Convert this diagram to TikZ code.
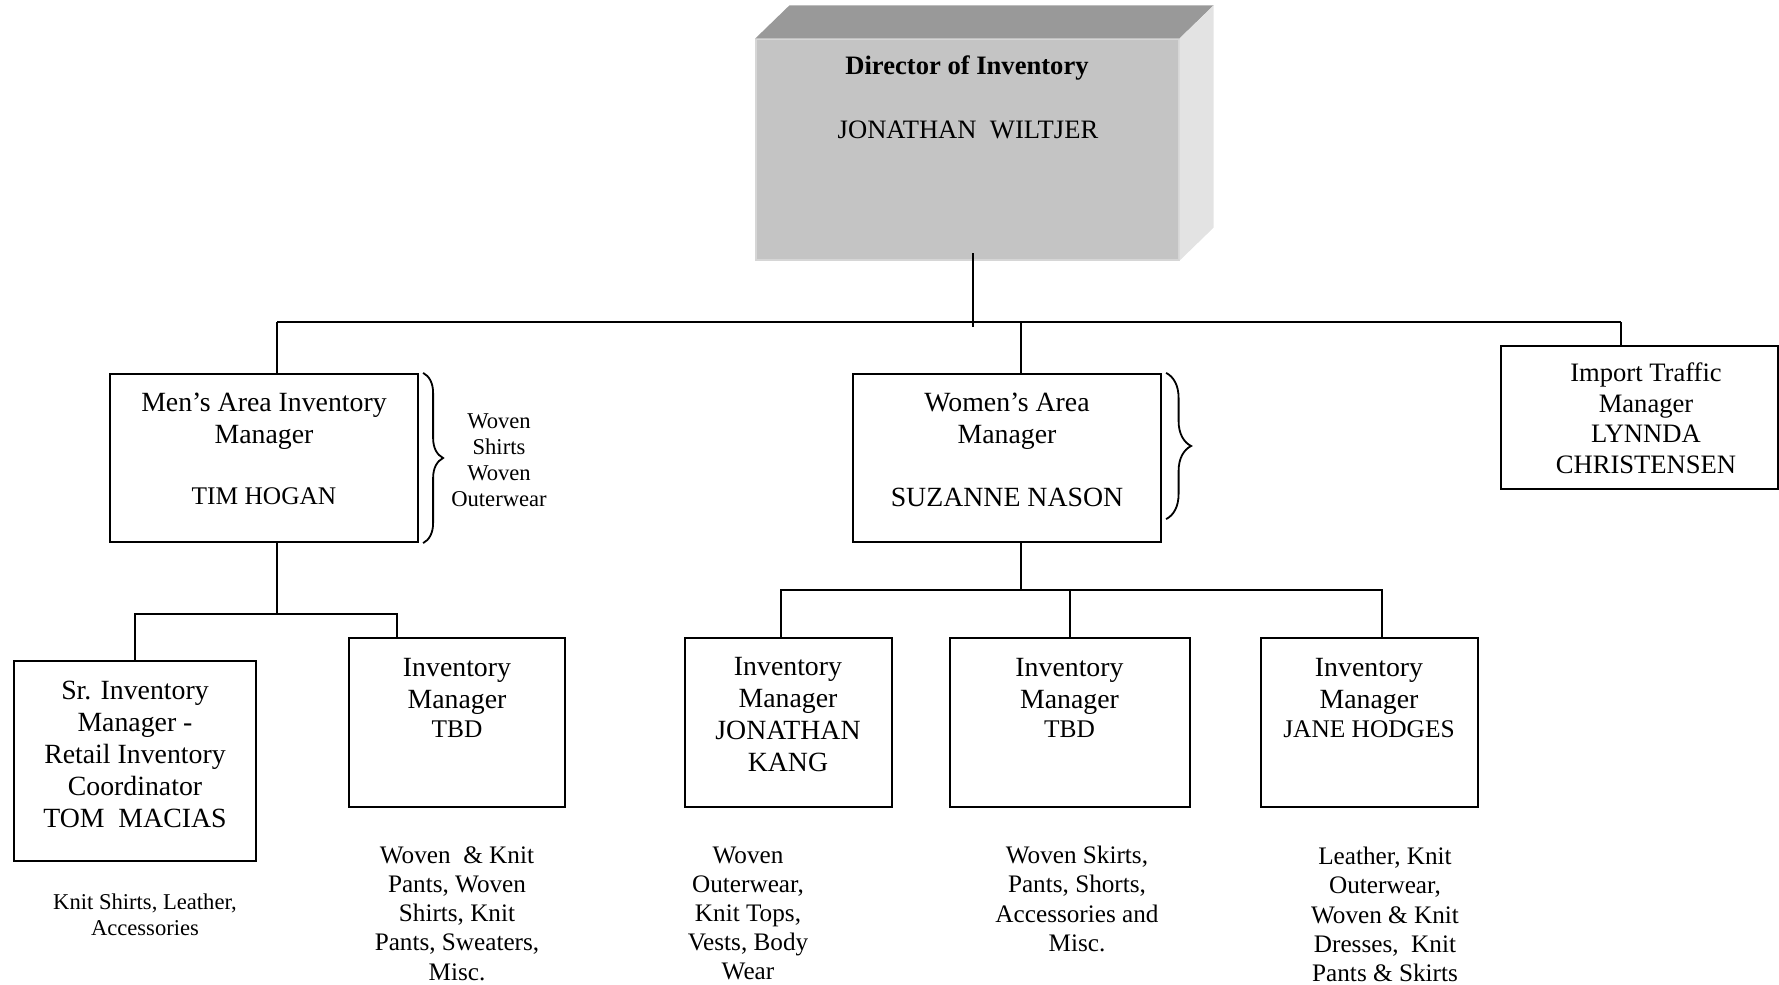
\documentclass[tikz,border=0pt]{standalone}
\usepackage{fontspec}
\setmainfont{Liberation Serif}
\usetikzlibrary{fit,calc,decorations.pathreplacing}

\definecolor{dirfront}{RGB}{196,196,196}
\definecolor{dirtop}{RGB}{153,153,153}
\definecolor{dirside}{RGB}{227,227,227}
\definecolor{diredge}{RGB}{214,214,214}

\begin{document}
\begin{tikzpicture}[x=0.5pt,y=-0.5pt,
  box/.style={draw, line width=1.1pt, inner sep=0pt},
  link/.style={line width=1pt},
  bracket/.style={line width=0.9pt, decorate, decoration={brace, amplitude=#1}},
  big/.style={font=\fontsize{13.9}{16}\selectfont, align=center, inner sep=0pt},
  namefont/.style={font=\fontsize{12.7}{14.6}\selectfont, align=center, inner sep=0pt},
  desc/.style={font=\fontsize{12.6}{14.6}\selectfont, align=center, inner sep=0pt},
  small/.style={font=\fontsize{11.3}{13}\selectfont, align=center, inner sep=0pt},
  imp/.style={font=\fontsize{13.3}{15.25}\selectfont, align=center, inner sep=0pt},
  dirtext/.style={font=\fontsize{13.3}{15.3}\selectfont, inner sep=0pt}]

\useasboundingbox (0,0) rectangle (1779,985);

% ---- Director block (3D box) ----
\node[fill=dirfront, draw=diredge, line width=0.6pt, inner sep=0pt,
      fit={(756,39) (1179,260)}] (dir) {};
\fill[dirtop] (dir.north west) -- ++(34,-33) -- ($(dir.north east)+(34,-33)$)
  -- (dir.north east) -- cycle;
\fill[dirside] (dir.north east) -- ++(34,-33) -- ($(dir.south east)+(34,-33)$)
  -- (dir.south east) -- cycle;
\node[dirtext, font=\fontsize{13.3}{15.3}\selectfont\bfseries] (dirT) at (967,68.5) {Director of Inventory};
\node[dirtext] (dirN) at (968,130) {JONATHAN\ \ WILTJER};

% ---- Second level boxes ----
\node[box, fit={(110,374) (418,542)}] (men) {};
\node[box, fit={(853,374) (1161,542)}] (women) {};
\node[box, fit={(1501,346) (1778.5,489)}] (import) {};

\node[big] (menT) at (264,421) {Men’s Area Inventory\\Manager};
\node[namefont] (menN) at (264,496) {TIM HOGAN};
\node[big] (womT) at (1007,421) {Women’s Area\\Manager};
\node[big] (womN) at (1007,497) {SUZANNE NASON};
\node[imp] (impT) at (1646,418.5) {Import Traffic\\Manager\\LYNNDA\\CHRISTENSEN};

% braces beside the area managers
\draw[bracket=10pt] ([xshift=2pt]men.north east) -- ([xshift=2pt]men.south east);
\node[small] (menL) at (499,460) {Woven\\Shirts\\Woven\\Outerwear};
\draw[bracket=12.5pt] ([xshift=2pt]women.north east) -- ([shift={(2pt,12pt)}]women.south east);

% ---- Third level boxes ----
\node[box, fit={(14,661) (256,861)}] (sr) {};
\node[box, fit={(349,638) (565,807)}] (tbdm) {};
\node[box, fit={(685,638) (892,807)}] (jk) {};
\node[box, fit={(950,638) (1190,807)}] (tbdw) {};
\node[box, fit={(1261,638) (1478,807)}] (jh) {};

\node[big] (srT) at (135,754) {Sr. Inventory\\Manager -\\Retail Inventory\\Coordinator\\TOM\ \ MACIAS};
\node[small] (srL) at (145,915) {Knit Shirts, Leather,\\Accessories};

\node[big] (tbdmT) at (457,686) {Inventory\\Manager};
\node[namefont] (tbdmN) at (457,729) {TBD};
\node[desc] (tbdmL) at (457,913.5) {Woven\ \ \& Knit\\Pants, Woven\\Shirts, Knit\\Pants, Sweaters,\\Misc.};

\node[big] (jkT) at (788,714.5) {Inventory\\Manager\\JONATHAN\\KANG};
\node[desc] (jkL) at (748,913.5) {Woven\\Outerwear,\\Knit Tops,\\Vests, Body\\Wear};

\node[big] (tbdwT) at (1069.5,686) {Inventory\\Manager};
\node[namefont] (tbdwN) at (1069.5,729) {TBD};
\node[desc] (tbdwL) at (1077,899) {Woven Skirts,\\Pants, Shorts,\\Accessories and\\Misc.};

\node[big] (jhT) at (1369,686) {Inventory\\Manager};
\node[namefont] (jhN) at (1369,729) {JANE HODGES};
\node[desc] (jhL) at (1385,914.5) {Leather, Knit\\Outerwear,\\Woven \& Knit\\Dresses,\ \ Knit\\Pants \& Skirts};

% ---- Connectors ----
\coordinate (dtap) at (973,253);
\coordinate (dfoot) at (973,327);
\coordinate (busL) at (277,322);
\coordinate (busR) at (1621,322);
\coordinate (wtap) at (1021,322);

\draw[link] (dtap) -- (dfoot);
\draw[link] (busL) -- (busR);
\draw[link] (busL) -- (busL |- men.north);
\draw[link] (wtap) -- (wtap |- women.north);
\draw[link] (busR) -- (busR |- import.north);

% men's branch
\coordinate (mj) at (277,614);
\coordinate (mjR) at (397,614);
\draw[link] (mj |- men.south) -- (mj);
\draw[link] (sr.north) |- (mjR) -- (mjR |- tbdm.north);

% women's branch
\coordinate (wj) at (1021,590);
\coordinate (wjL) at (781,590);
\coordinate (wjR) at (1382,590);
\draw[link] (wj |- women.south) -- (wj);
\draw[link] (wjL |- jk.north) -- (wjL) -- (wjR) -- (wjR |- jh.north);
\draw[link] (tbdw.north) -- (tbdw.north |- wj);

\end{tikzpicture}
\end{document}
